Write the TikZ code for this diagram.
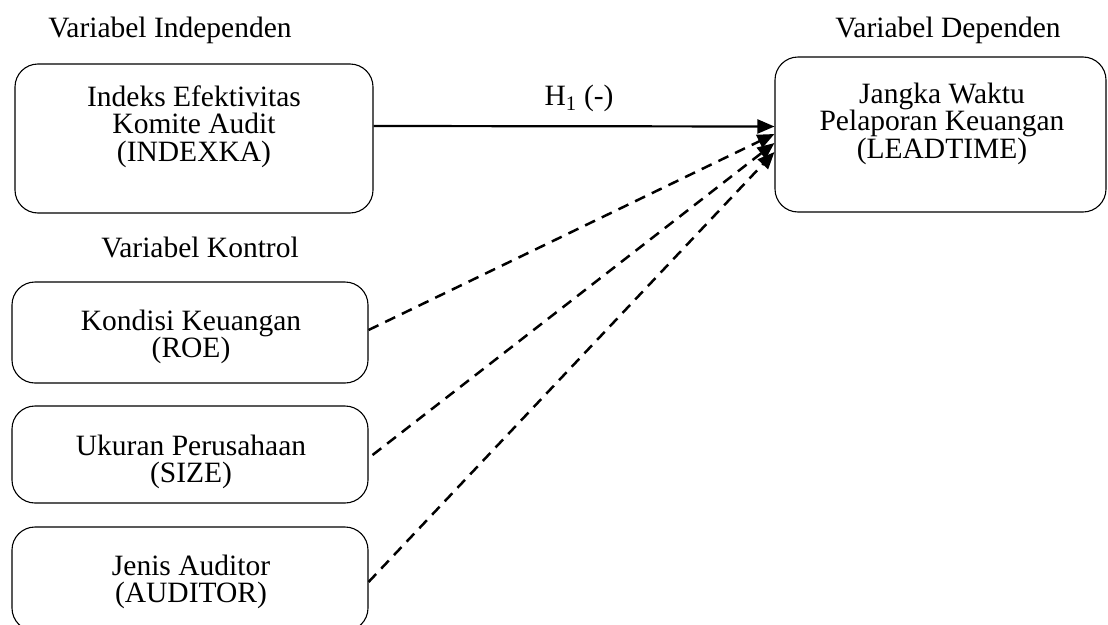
\documentclass[tikz,border=0pt]{standalone}
\usepackage{fontspec}
\setmainfont{Liberation Serif}
\usetikzlibrary{arrows.meta}
\begin{document}
\begin{tikzpicture}[x=1pt,y=-1pt,
  box/.style={draw=black,line width=1.1pt,rounded corners=23pt,inner sep=0pt},
  txt/.style={anchor=base,align=center,inner sep=0pt,font=\fontsize{29.5}{27.5}\selectfont},
  lbl/.style={anchor=base,inner sep=0pt,font=\fontsize{29.5}{27.5}\selectfont},
  arr/.style={line width=2.2pt,-{Triangle[length=17pt,width=14pt]}},
  darr/.style={arr,line width=2.5pt,dash pattern=on 11pt off 7.5pt}]
\useasboundingbox (0,0) rectangle (1108,624);
\clip (0,0) rectangle (1108,624);
% boxes
\node[box,minimum width=358pt,minimum height=149pt] (indep) at (194,138.5) {};
\node[box,minimum width=331pt,minimum height=155pt] (dep) at (940.5,134.5) {};
\node[box,minimum width=356pt,minimum height=101pt] (roe) at (190,332.5) {};
\node[box,minimum width=356pt,minimum height=97pt] (size) at (190,454.5) {};
\node[box,minimum width=356pt,minimum height=104pt] (aud) at (190,579) {};
% texts
\node[txt] (t1a) at (194,106) {Indeks Efektivitas};
\node[txt] (t1b) at (194,133.5) {Komite Audit};
\node[txt] (t1c) at (194,161) {(INDEXKA)};
\node[txt] (t2a) at (942,103) {Jangka Waktu};
\node[txt] (t2b) at (942,130.5) {Pelaporan Keuangan};
\node[txt] (t2c) at (942,158) {(LEADTIME)};
\node[txt] (t3a) at (191,330) {Kondisi Keuangan};
\node[txt] (t3b) at (191,357.5) {(ROE)};
\node[txt] (t4a) at (191,455) {Ukuran Perusahaan};
\node[txt] (t4b) at (191,482.5) {(SIZE)};
\node[txt] (t5a) at (191,575) {Jenis Auditor};
\node[txt] (t5b) at (191,602.5) {(AUDITOR)};
% labels
\node[lbl] (lindep) at (170,37) {Variabel Independen};
\node[lbl] (ldep) at (948,37) {Variabel Dependen};
\node[lbl] (lkon) at (200,257) {Variabel Kontrol};
\node[lbl] (lh) at (579,105) {H\textsubscript{1} (-)};
% connectors
\draw[arr] ([yshift=12.5pt]indep.east) -- ([yshift=8pt]dep.west);
\draw[darr] ([yshift=2.5pt]roe.east) -- ([yshift=0.5pt]dep.west);
\draw[darr] ([xshift=4pt,yshift=-0.5pt]size.east) -- ([yshift=-8.5pt]dep.west);
\draw[darr] ([yshift=-3pt]aud.east) -- ([yshift=-17.5pt]dep.west);
\end{tikzpicture}
\end{document}
